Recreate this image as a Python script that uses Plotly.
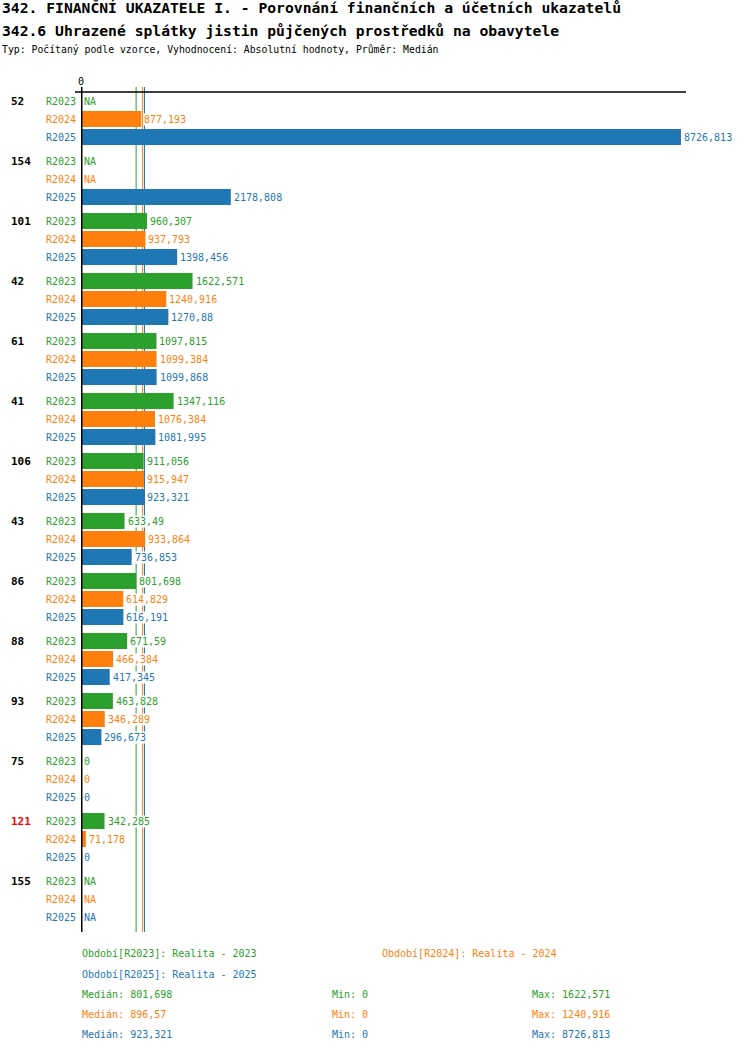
import plotly.graph_objects as go

groups = ["52", "154", "101", "42", "61", "41", "106", "43", "86", "88", "93", "75", "121", "155"]
group_colors = ["black"] * 12 + ["red", "black"]
series_names = ["R2023", "R2024", "R2025"]
series_colors = ["#2ca02c", "#ff7f0e", "#1f77b4"]
r2023 = [None, None, 960.307, 1622.571, 1097.815, 1347.116, 911.056, 633.49, 801.698, 671.59, 463.828, 0, 342.285, None]
r2024 = [877.193, None, 937.793, 1240.916, 1099.384, 1076.384, 915.947, 933.864, 614.829, 466.384, 346.289, 0, 71.178, None]
r2025 = [8726.813, 2178.808, 1398.456, 1270.88, 1099.868, 1081.995, 923.321, 736.853, 616.191, 417.345, 296.673, 0, 0, None]
medians = [801.698, 896.57, 923.321]
mins = [0, 0, 0]
maxs = [1622.571, 1240.916, 8726.813]
legend_texts = ["Období[R2023]: Realita - 2023", "Období[R2024]: Realita - 2024", "Období[R2025]: Realita - 2025"]
title1 = "342. FINANČNÍ UKAZATELE I. - Porovnání finančních a účetních ukazatelů"
title2 = "342.6 Uhrazené splátky jistin půjčených prostředků na obavytele"
subtitle = "Typ: Počítaný podle vzorce, Vyhodnocení: Absolutní hodnoty, Průměr: Medián"

series = [r2023, r2024, r2025]

FONT = "DejaVu Sans Mono"
W, H = 750, 1052
L, R, T, B = 81, 64, 92, 120
GROUP_STEP, SLOT = 60, 18


def fmt(v):
    if v is None:
        return "NA"
    s = ("%.3f" % v).rstrip("0").rstrip(".")
    return s.replace(".", ",")


def px(xp):
    return (xp - L) / (W - L - R)


def py(yp):
    return (H - B - yp) / (H - T - B)


fig = go.Figure()
annotations = []

for si, (name, vals, col) in enumerate(zip(series_names, series, series_colors)):
    ys = [gi * GROUP_STEP + si * SLOT for gi in range(len(groups))]
    fig.add_trace(go.Bar(
        x=vals, y=ys, orientation="h", width=16,
        marker=dict(color=col, line=dict(width=0)),
        name=name, showlegend=False, hoverinfo="skip",
    ))
    for gi, v in enumerate(vals):
        y = ys[gi]
        annotations.append(dict(
            x=v if v is not None else 0, y=y, xref="x", yref="y",
            text=fmt(v), showarrow=False, xanchor="left", yanchor="middle",
            xshift=2, font=dict(family=FONT, size=10, color=col),
            bgcolor="white", borderpad=0,
        ))
        annotations.append(dict(
            x=0, y=y, xref="paper", yref="y", text=name, showarrow=False,
            xanchor="right", yanchor="middle", xshift=-3,
            font=dict(family=FONT, size=10, color=col),
        ))

for gi, (g, gc) in enumerate(zip(groups, group_colors)):
    annotations.append(dict(
        x=px(9), y=gi * GROUP_STEP, xref="paper", yref="y", text="<b>%s</b>" % g,
        showarrow=False, xanchor="left", yanchor="middle",
        font=dict(family=FONT, size=11, color=gc),
    ))

# zero label
annotations.append(dict(x=0, y=py(81), xref="x", yref="paper", text="0", showarrow=False,
                        xanchor="center", yanchor="middle", font=dict(family=FONT, size=10, color="black")))

# titles
for txt, yy, sz, bold in [(title1, 8, 14.7, True), (title2, 30, 14.7, True), (subtitle, 50, 9.8, False)]:
    annotations.append(dict(x=px(0), y=py(yy), xref="paper", yref="paper",
                            text=("<b>%s</b>" % txt) if bold else txt, showarrow=False,
                            xanchor="left", yanchor="middle",
                            font=dict(family=FONT, size=sz, color="black")))

# legend
leg_pos = [(80, 954), (380, 954), (80, 974)]
for (lx, ly), txt, col in zip(leg_pos, legend_texts, series_colors):
    annotations.append(dict(x=px(lx), y=py(ly), xref="paper", yref="paper", text=txt,
                            showarrow=False, xanchor="left", yanchor="middle",
                            font=dict(family=FONT, size=10, color=col)))
for si, col in enumerate(series_colors):
    ly = 994 + 20 * si
    for lx, txt in [(80, "Medián: " + fmt(medians[si])), (330, "Min: " + fmt(mins[si])),
                    (530, "Max: " + fmt(maxs[si]))]:
        annotations.append(dict(x=px(lx), y=py(ly), xref="paper", yref="paper", text=txt,
                                showarrow=False, xanchor="left", yanchor="middle",
                                font=dict(family=FONT, size=10, color=col)))

shapes = []
top_y = py(87)
for m, col in zip(medians, series_colors):
    shapes.append(dict(type="line", xref="x", yref="paper", x0=m, x1=m, y0=0, y1=top_y,
                       line=dict(color=col, width=1), layer="below"))
shapes.append(dict(type="line", xref="paper", yref="paper", x0=px(75), x1=1, y0=1, y1=1,
                   line=dict(color="black", width=1.5)))
shapes.append(dict(type="line", xref="x", yref="paper", x0=0, x1=0, y0=0, y1=top_y,
                   line=dict(color="black", width=3)))

fig.update_layout(
    width=W, height=H,
    margin=dict(l=L, r=R, t=T, b=B, pad=0),
    paper_bgcolor="white", plot_bgcolor="white",
    xaxis=dict(range=[0, 8800], visible=False, fixedrange=True),
    yaxis=dict(range=[(len(groups) - 1) * GROUP_STEP + 2 * SLOT + 15, -9], visible=False, fixedrange=True),
    barmode="overlay",
    annotations=annotations, shapes=shapes,
    font=dict(family=FONT),
)

fig.write_html("out.html", config={"displayModeBar": False},
               post_script="document.body.style.margin='0';document.body.style.padding='0';")
